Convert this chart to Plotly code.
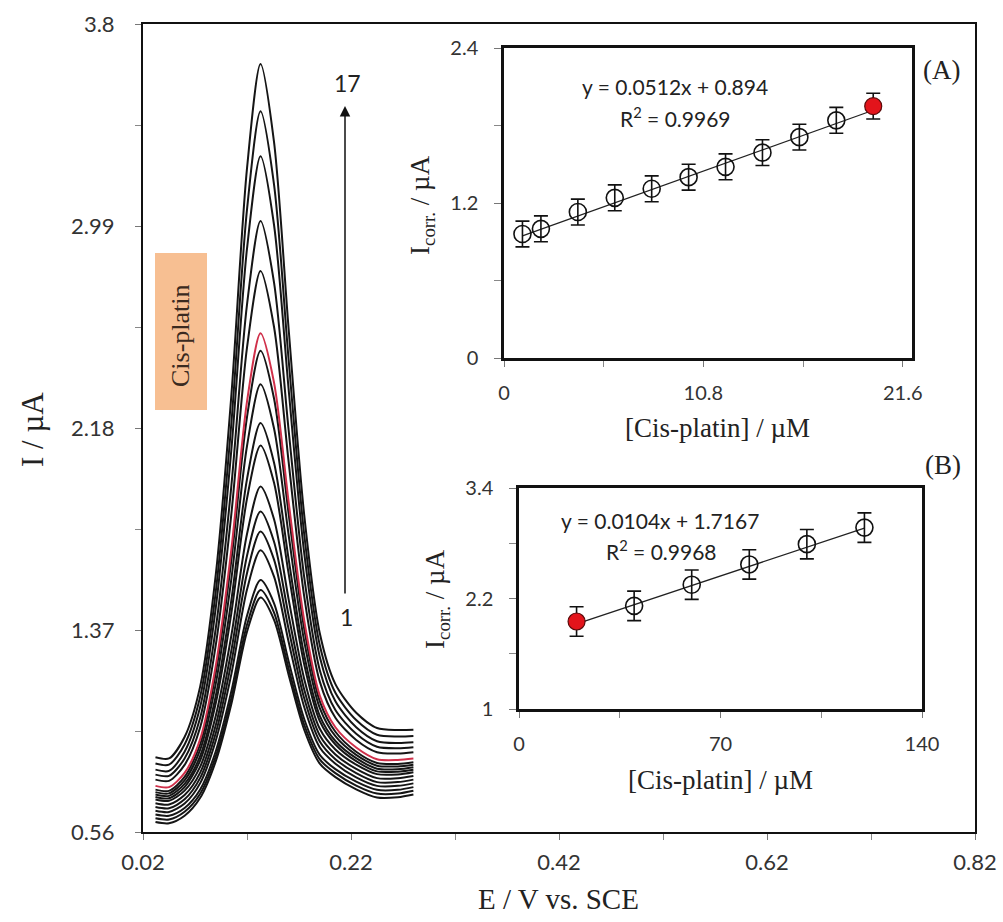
import plotly.graph_objects as go

# ---------------- data ----------------
E = [0.032, 0.045, 0.060, 0.075, 0.090, 0.105, 0.120, 0.133, 0.146, 0.160,
     0.175, 0.190, 0.205, 0.225, 0.245, 0.265, 0.280]

c1 = [0.600, 0.595, 0.625, 0.697, 0.844, 1.074, 1.363, 1.500, 1.411, 1.191, 0.970, 0.834, 0.780, 0.731, 0.698, 0.699, 0.710]
c2 = [0.615, 0.610, 0.641, 0.713, 0.863, 1.097, 1.391, 1.530, 1.440, 1.215, 0.990, 0.851, 0.796, 0.746, 0.714, 0.714, 0.725]
c3 = [0.630, 0.625, 0.656, 0.730, 0.884, 1.125, 1.427, 1.570, 1.477, 1.245, 1.013, 0.869, 0.812, 0.762, 0.729, 0.729, 0.740]
c4 = [0.645, 0.640, 0.674, 0.756, 0.927, 1.194, 1.532, 1.690, 1.584, 1.323, 1.061, 0.899, 0.834, 0.779, 0.745, 0.745, 0.755]
c5 = [0.660, 0.655, 0.691, 0.777, 0.957, 1.241, 1.598, 1.765, 1.652, 1.374, 1.096, 0.923, 0.852, 0.796, 0.760, 0.760, 0.770]
c6 = [0.675, 0.670, 0.708, 0.798, 0.989, 1.289, 1.668, 1.845, 1.724, 1.428, 1.131, 0.947, 0.871, 0.813, 0.776, 0.776, 0.785]
c7 = [0.690, 0.685, 0.726, 0.822, 1.026, 1.349, 1.755, 1.945, 1.814, 1.494, 1.174, 0.974, 0.891, 0.830, 0.792, 0.791, 0.800]
c8 = [0.700, 0.695, 0.740, 0.847, 1.077, 1.439, 1.897, 2.110, 1.960, 1.597, 1.233, 1.005, 0.911, 0.844, 0.803, 0.802, 0.810]
c9 = [0.710, 0.705, 0.753, 0.865, 1.107, 1.491, 1.975, 2.200, 2.041, 1.655, 1.269, 1.026, 0.925, 0.856, 0.814, 0.812, 0.820]
c10 = [0.720, 0.715, 0.767, 0.890, 1.155, 1.576, 2.108, 2.355, 2.178, 1.752, 1.325, 1.057, 0.944, 0.869, 0.826, 0.823, 0.830]
c11 = [0.730, 0.725, 0.781, 0.912, 1.198, 1.651, 2.224, 2.490, 2.298, 1.837, 1.375, 1.084, 0.962, 0.882, 0.837, 0.833, 0.840]
c12 = [0.745, 0.740, 0.797, 0.933, 1.227, 1.695, 2.286, 2.560, 2.362, 1.885, 1.408, 1.107, 0.980, 0.899, 0.852, 0.849, 0.855]
c13 = [0.770, 0.765, 0.829, 0.980, 1.310, 1.837, 2.502, 2.810, 2.585, 2.045, 1.505, 1.163, 1.018, 0.929, 0.880, 0.875, 0.880]
c14 = [0.790, 0.785, 0.855, 1.018, 1.377, 1.950, 2.675, 3.010, 2.763, 2.173, 1.582, 1.209, 1.049, 0.954, 0.902, 0.896, 0.900]
c15 = [0.810, 0.805, 0.882, 1.062, 1.460, 2.095, 2.899, 3.270, 2.994, 2.337, 1.679, 1.262, 1.084, 0.980, 0.924, 0.917, 0.920]
c16 = [0.835, 0.830, 0.911, 1.103, 1.525, 2.201, 3.056, 3.450, 3.156, 2.455, 1.754, 1.309, 1.118, 1.009, 0.950, 0.943, 0.945]
c17 = [0.860, 0.855, 0.941, 1.144, 1.593, 2.313, 3.221, 3.640, 3.326, 2.579, 1.832, 1.357, 1.153, 1.038, 0.977, 0.969, 0.970]
curves = [c1, c2, c3, c4, c5, c6, c7, c8, c9, c10, c11, c12, c13, c14, c15, c16, c17]
red_curve_index = 11  # curve 12 (20 µM)

main_yticks = [0.56, 1.37, 2.18, 2.99, 3.8]
main_xticks = [0.02, 0.22, 0.42, 0.62, 0.82]

# inset A
a_conc = [1, 2, 4, 6, 8, 10, 12, 14, 16, 18, 20]
a_curr = [0.96, 1.00, 1.13, 1.24, 1.31, 1.40, 1.48, 1.59, 1.71, 1.84, 1.95]
a_err = [0.10] * 11
a_slope, a_icpt = 0.0512, 0.894
a_xticks = [0, 10.8, 21.6]
a_yticks = [0, 1.2, 2.4]

# inset B
b_conc = [20, 40, 60, 80, 100, 120]
b_curr = [1.95, 2.12, 2.35, 2.57, 2.79, 2.97]
b_err = [0.16] * 6
b_slope, b_icpt = 0.0104, 1.7167
b_xticks = [0, 70, 140]
b_yticks = [1, 2.2, 3.4]

# ---------------- layout helpers ----------------
W, H = 1003, 922
def px(x): return x / W
def py(y): return 1 - y / H

SANS = "Lato"
SERIF = "Liberation Serif"
TXT = "#333333"

fig = go.Figure()

for i, c in enumerate(curves):
    if i == red_curve_index:
        continue
    fig.add_trace(go.Scatter(x=E, y=c, mode="lines", line=dict(color="#151515", width=2, shape="spline", smoothing=0.8),
                             showlegend=False, hoverinfo="skip", xaxis="x", yaxis="y"))
fig.add_trace(go.Scatter(x=E, y=curves[red_curve_index], mode="lines",
                         line=dict(color="#d0304a", width=2, shape="spline", smoothing=0.8),
                         showlegend=False, hoverinfo="skip", xaxis="x", yaxis="y"))

# inset A
a_fit_x = [a_conc[0], a_conc[-1]]
a_fit_y = [a_icpt + a_slope * v for v in a_fit_x]
fig.add_trace(go.Scatter(x=a_fit_x, y=a_fit_y, mode="lines", line=dict(color="#222", width=1.3),
                         showlegend=False, xaxis="x2", yaxis="y2"))
fig.add_trace(go.Scatter(x=a_conc[:-1], y=a_curr[:-1], mode="markers",
                         marker=dict(symbol="circle-open", size=17, color="#111", line=dict(width=1.6)),
                         error_y=dict(type="data", array=a_err[:-1], color="#111", thickness=1.6, width=7),
                         showlegend=False, xaxis="x2", yaxis="y2"))
fig.add_trace(go.Scatter(x=a_conc[-1:], y=a_curr[-1:], mode="markers",
                         marker=dict(symbol="circle", size=17, color="#e3141b", line=dict(width=1.2, color="#5a0a0a")),
                         error_y=dict(type="data", array=a_err[-1:], color="#111", thickness=1.6, width=7),
                         showlegend=False, xaxis="x2", yaxis="y2"))

# inset B
b_fit_x = [b_conc[0], b_conc[-1]]
b_fit_y = [b_icpt + b_slope * v for v in b_fit_x]
fig.add_trace(go.Scatter(x=b_fit_x, y=b_fit_y, mode="lines", line=dict(color="#222", width=1.3),
                         showlegend=False, xaxis="x3", yaxis="y3"))
fig.add_trace(go.Scatter(x=b_conc[1:], y=b_curr[1:], mode="markers",
                         marker=dict(symbol="circle-open", size=17, color="#111", line=dict(width=1.6)),
                         error_y=dict(type="data", array=b_err[1:], color="#111", thickness=1.6, width=7),
                         showlegend=False, xaxis="x3", yaxis="y3"))
fig.add_trace(go.Scatter(x=b_conc[:1], y=b_curr[:1], mode="markers",
                         marker=dict(symbol="circle", size=17, color="#e3141b", line=dict(width=1.2, color="#5a0a0a")),
                         error_y=dict(type="data", array=b_err[:1], color="#111", thickness=1.6, width=7),
                         showlegend=False, xaxis="x3", yaxis="y3"))

def ax_common(lw, fsize, tlen):
    return dict(showline=True, linecolor="#111", linewidth=lw, mirror=True, showgrid=False, zeroline=False,
                ticks="outside", ticklen=tlen, tickcolor="#777", tickwidth=1, automargin=False,
                tickfont=dict(family=SANS, size=fsize, color=TXT))

fig.update_layout(
    width=W, height=H, margin=dict(l=0, r=0, t=0, b=0, pad=0), autosize=False,
    paper_bgcolor="white", plot_bgcolor="white",
    xaxis=dict(domain=[px(143), px(975)], range=[0.02, 0.82], tickvals=main_xticks,
               ticktext=[f"{v:.2f}" for v in main_xticks], ticklabelstandoff=4,
               minor=dict(dtick=0.1, tick0=0.02, ticks="outside", ticklen=6, tickcolor="#888"),
               anchor="y", **ax_common(2, 22, 6)),
    yaxis=dict(domain=[py(832), py(24)], range=[0.56, 3.8], tickvals=main_yticks,
               ticktext=[f"{v:g}" for v in main_yticks], ticklabelstandoff=16,
               minor=dict(dtick=0.405, tick0=0.56, ticks="outside", ticklen=6, tickcolor="#888"),
               anchor="x", **ax_common(2, 22, 6)),
    xaxis2=dict(domain=[px(504), px(912)], range=[0, 22.1], tickvals=a_xticks,
                ticktext=["0", "10.8", "21.6"], ticklabelstandoff=9,
                minor=dict(dtick=5.4, tick0=0, ticks="outside", ticklen=6, tickcolor="#888"),
                anchor="y2", **ax_common(2.5, 20, 6)),
    yaxis2=dict(domain=[py(358), py(48)], range=[0, 2.4], tickvals=a_yticks,
                ticktext=["0", "1.2", "2.4"], ticklabelstandoff=12,
                minor=dict(dtick=0.6, tick0=0, ticks="outside", ticklen=7, tickcolor="#888"),
                anchor="x2", **ax_common(2.5, 20, 7)),
    xaxis3=dict(domain=[px(519), px(922)], range=[0, 140], tickvals=b_xticks,
                ticktext=["0", "70", "140"], ticklabelstandoff=9,
                minor=dict(dtick=35, tick0=0, ticks="outside", ticklen=6, tickcolor="#888"),
                anchor="y3", **ax_common(2.5, 20, 6)),
    yaxis3=dict(domain=[py(709), py(488)], range=[1, 3.4], tickvals=b_yticks,
                ticktext=["1", "2.2", "3.4"], ticklabelstandoff=12,
                minor=dict(dtick=0.6, tick0=1, ticks="outside", ticklen=7, tickcolor="#888"),
                anchor="x3", **ax_common(2.5, 20, 7)),
)

# Cis-platin label box
fig.add_shape(type="rect", xref="paper", yref="paper", x0=px(155), x1=px(207), y0=py(410), y1=py(253),
              fillcolor="#f7bf92", line=dict(width=0), layer="below")

def note(text, x, y, size, family=SERIF, angle=0, color="#222", xanchor="center"):
    fig.add_annotation(text=text, x=px(x), y=py(y), xref="paper", yref="paper", showarrow=False,
                       font=dict(family=family, size=size, color=color), textangle=angle,
                       xanchor=xanchor, yanchor="middle")

note("Cis-platin", 181, 336, 26, angle=-90, color="#3a2a20")
note("I / µA", 33, 430, 31, angle=-90)
note("E / V vs. SCE", 558, 899, 29)
note("[Cis-platin] / µM", 717, 428, 27)
note("I<sub>corr.</sub> / µA", 422, 205, 27, angle=-90)
note("[Cis-platin] / µM", 720, 780, 27)
note("I<sub>corr.</sub> / µA", 437, 599, 27, angle=-90)
note("(A)", 941, 70, 27)
note("(B)", 943, 465, 27)
note("y = 0.0512x + 0.894", 675, 87, 21, family=SANS)
note("R<sup>2</sup> = 0.9969", 675, 117, 21, family=SANS)
note("y = 0.0104x + 1.7167", 660, 520, 21, family=SANS)
note("R<sup>2</sup> = 0.9968", 661, 550, 21, family=SANS)
note("17", 347, 83, 23, family=SANS)
note("1", 346, 617, 23, family=SANS)

# arrow 1 -> 17
fig.add_annotation(x=px(345), y=py(106), xref="paper", yref="paper", ax=0, ay=595 - 106,
                   showarrow=True, arrowhead=2, arrowsize=1.4, arrowwidth=1.5, arrowcolor="#111", text="")

fig.write_html("out.html", config={"displayModeBar": False},
               post_script="document.body.style.margin='0px';document.body.style.padding='0px';"
                           "document.documentElement.style.overflow='hidden';")
